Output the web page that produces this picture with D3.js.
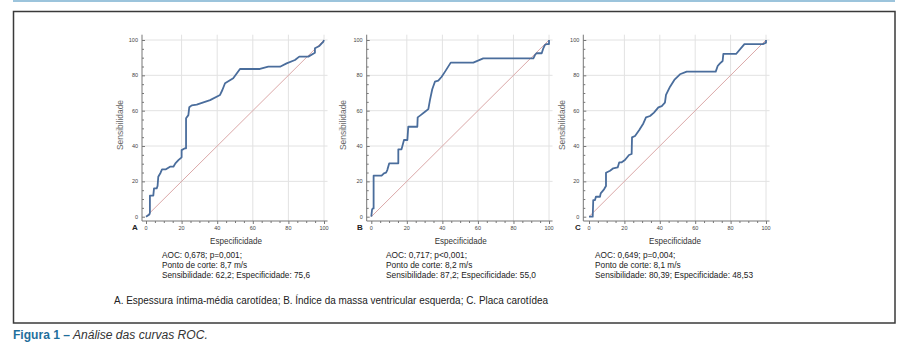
<!DOCTYPE html>
<html><head><meta charset="utf-8">
<script src="https://cdn.jsdelivr.net/npm/d3@7"></script>
<style>body{margin:0;background:#fff}svg{display:block}</style>
</head><body>
<script>
// ---- data ----
const panelLetters = ["A", "B", "C"];
const ticks = [0, 20, 40, 60, 80, 100];
const rocA = [[0,0],[1.9,1.3],[2.2,2.3],[2.2,11.9],[4.1,11.9],[4.5,16],[6,16],[6.5,17.4],[6.9,22.6],[8.2,24.9],[9,26.8],[11.2,26.8],[13.5,28.3],[15.4,28.3],[16.5,30.2],[18.2,32],[20,33.6],[20,37.7],[21.9,38.7],[22.5,38.7],[22.5,55.7],[23.8,57.5],[24.3,61.9],[25.7,63],[28.5,63.4],[36,66],[41.6,68.9],[42.9,71.7],[44.4,75.5],[49,78.3],[52.8,83.6],[64,83.6],[68.7,84.9],[75.3,84.9],[79,86.8],[83.7,88.7],[86.1,90.6],[91.2,90.6],[94.9,92.8],[94.9,95.3],[97.4,96.6],[98.7,98.1],[99.6,99],[100,100]];
const rocB = [[0,0],[0.4,3.8],[0.8,4.7],[1.3,4.7],[1.3,23.2],[5.8,23.2],[7.1,24.5],[8.3,24.9],[9,26.4],[10.1,30.2],[15.2,30.2],[15.2,38.1],[17,38.1],[18.4,43.4],[20.3,43.4],[20.8,50.9],[25.9,50.9],[26.1,56.2],[27.8,57.5],[30.2,59.4],[32.1,60.9],[33,66],[34.3,72.1],[35.8,76.4],[37.7,77],[39.6,79.2],[41.5,82.1],[44.7,87.2],[57.4,87.2],[63,89.6],[91.2,89.6],[92.1,91.5],[93,92.5],[95.9,92.5],[96.8,95.3],[97.7,97.2],[98.7,97.7],[100,97.7],[100,100]];
const rocC = [[0,0],[2.1,0],[2.4,9.4],[3.4,9.4],[3.9,11.3],[6.2,11.3],[6.6,13.2],[8.5,15.5],[9.6,17.4],[9.6,24.9],[11.9,26],[13.7,27.4],[16.2,27.9],[17.1,30.8],[18.5,30.8],[20.3,32.1],[22.6,34.9],[24.1,35.5],[24.3,44.9],[26,45.7],[28.4,49.1],[30.7,52.8],[32.2,56.2],[34.5,57],[36.7,58.9],[39.2,61.9],[41.1,62.6],[42.9,64.5],[43.5,68.9],[45.8,73.6],[48.2,77.4],[51.4,80.6],[55.2,82.1],[71.6,82.1],[72.7,85.3],[74,86.8],[75.5,88.1],[75.9,92.1],[83.1,92.1],[87.8,97.7],[98.5,97.7],[100,98.5],[100,100]];
const statsA = ["AOC: 0,678; p=0,001;", "Ponto de corte: 8,7 m/s", "Sensibilidade: 62,2; Especificidade: 75,6"];
const statsB = ["AOC: 0,717; p<0,001;", "Ponto de corte: 8,2 m/s", "Sensibilidade: 87,2; Especificidade: 55,0"];
const statsC = ["AOC: 0,649; p=0,004;", "Ponto de corte: 8,1 m/s", "Sensibilidade: 80,39; Especificidade: 48,53"];
const xTitle = "Especificidade";
const yTitle = "Sensibilidade";
const footnote = "A. Espessura íntima-média carotídea; B. Índice da massa ventricular esquerda; C. Placa carotídea";
const captionBold = "Figura 1 –";
const captionItalic = " Análise das curvas ROC.";

// ---- layout ----
const W = 910, H = 357;
const FONT = "'Liberation Sans Narrow','Arial Narrow','Liberation Sans',Arial,sans-serif";
const svg = d3.select("body").append("svg").attr("width", W).attr("height", H);

function fitText(sel, target) {
  const w = sel.node().getComputedTextLength();
  if (target && Math.abs(w - target) > 1) sel.attr("textLength", target).attr("lengthAdjust", "spacingAndGlyphs");
  return sel;
}

svg.append("line").attr("x1", 13).attr("x2", 895).attr("y1", 1).attr("y2", 1)
  .attr("stroke", "#9cc4dc").attr("stroke-width", 2);
svg.append("rect").attr("x", 13.5).attr("y", 11.5).attr("width", 881.5).attr("height", 311.5)
  .attr("fill", "none").attr("stroke", "#3a3a3a").attr("stroke-width", 1.5);

const panels = [
  {x0: 146, x100: 324, axisX: 142, data: rocA, stats: statsA, statsX: 162, lastW: 148, titleX: 236, yTitleX: 120, letterX: 132},
  {x0: 371.3, x100: 549, axisX: 366.7, data: rocB, stats: statsB, statsX: 386, lastW: 150, titleX: 460.7, yTitleX: 343, letterX: 357},
  {x0: 589, x100: 766, axisX: 583.3, data: rocC, stats: statsC, statsX: 595, lastW: 158, titleX: 675, yTitleX: 562, letterX: 575}
];

const y = d3.scaleLinear().domain([0, 100]).range([216.7, 40]);
const axisY = 221;
const topY = y(103);

panels.forEach((p, i) => {
  const x = d3.scaleLinear().domain([0, 100]).range([p.x0, p.x100]);
  const g = svg.append("g");
  const right = x(102);
  g.selectAll(".vg").data(ticks.slice(1)).join("line")
    .attr("x1", d => x(d)).attr("x2", d => x(d)).attr("y1", axisY).attr("y2", topY)
    .attr("stroke", "#e2e2e2").attr("stroke-width", 1);
  g.selectAll(".hg").data(ticks.slice(1)).join("line")
    .attr("x1", p.axisX).attr("x2", right).attr("y1", d => y(d)).attr("y2", d => y(d))
    .attr("stroke", "#e2e2e2").attr("stroke-width", 1);
  g.append("line").attr("x1", x(0)).attr("y1", y(0)).attr("x2", x(100)).attr("y2", y(100))
    .attr("stroke", "#dba8a8").attr("stroke-width", 1);
  const ax = d3.axisBottom(x).tickValues(d3.range(0, 101, 5)).tickSize(2).tickFormat("");
  const gx = g.append("g").attr("transform", `translate(0,${axisY})`).call(ax);
  gx.select(".domain").attr("d", `M${p.axisX},0H${right}`);
  const ay = d3.axisLeft(y).tickValues(d3.range(0, 101, 5)).tickSize(-2).tickFormat("");
  const gy = g.append("g").attr("transform", `translate(${p.axisX},0)`).call(ay);
  gy.select(".domain").attr("d", `M0,${axisY}V${topY}`);
  [gx, gy].forEach(a => a.selectAll("path,line").attr("stroke", "#777"));
  gx.selectAll(".tick line").filter(d => d % 20 === 0).attr("y2", 3);
  gy.selectAll(".tick line").filter(d => d % 20 === 0).attr("x2", 3);
  g.selectAll(".xl").data(ticks).join("text")
    .attr("x", d => x(d)).attr("y", 229.5).attr("text-anchor", "middle")
    .attr("font-family", FONT).attr("font-size", 5.5).attr("fill", "#444").text(d => d);
  g.selectAll(".yl").data(ticks).join("text")
    .attr("x", p.axisX - 4).attr("y", d => y(d) + 2).attr("text-anchor", "end")
    .attr("font-family", FONT).attr("font-size", 5.5).attr("fill", "#444").text(d => d);
  g.append("path").datum(p.data)
    .attr("d", d3.line().x(d => x(d[0])).y(d => y(d[1])))
    .attr("fill", "none").attr("stroke", "#4a6d9c").attr("stroke-width", 1.8)
    .attr("stroke-linejoin", "round");
  g.append("text").attr("x", p.letterX).attr("y", 230).attr("font-family", FONT)
    .attr("font-weight", "bold").attr("font-size", 8).attr("fill", "#222").text(panelLetters[i]);
  fitText(g.append("text").attr("x", p.titleX).attr("y", 244).attr("text-anchor", "middle")
    .attr("font-family", FONT).attr("font-size", 9.5).attr("fill", "#333").text(xTitle), 52);
  fitText(g.append("text").attr("transform", `translate(${p.yTitleX + 3},125) rotate(-90)`)
    .attr("text-anchor", "middle").attr("font-family", FONT).attr("font-size", 9.5)
    .attr("fill", "#666").text(yTitle), 50);
  const lines = p.stats.map((s, j) => g.append("text").attr("x", p.statsX).attr("y", 257.5 + j * 10.2)
      .attr("font-family", FONT).attr("font-size", 9).attr("fill", "#222").text(s));
  const k = p.lastW / lines[2].node().getComputedTextLength();
  lines.forEach(l => fitText(l, l.node().getComputedTextLength() * k));
});

fitText(svg.append("text").attr("x", 114).attr("y", 304).attr("font-family", FONT)
  .attr("font-size", 11).attr("fill", "#222").text(footnote), 434);

const capG = svg.append("g");
const cap = capG.append("text").attr("x", 0).attr("y", 0).attr("font-family", FONT).attr("font-size", 13.5);
cap.append("tspan").attr("font-weight", "bold").attr("fill", "#1f6f9c").text(captionBold);
cap.append("tspan").attr("font-style", "italic").attr("fill", "#333").text(captionItalic);
const capW = cap.node().getBBox().width;
capG.attr("transform", `translate(13,338.5) scale(${195 / capW},1)`);
</script>
</body></html>
